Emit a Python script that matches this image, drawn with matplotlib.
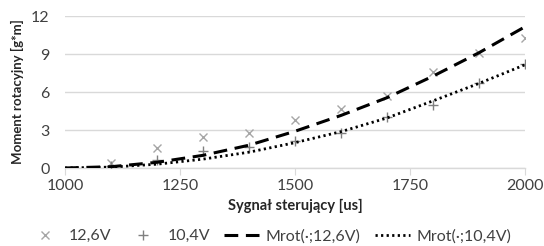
import matplotlib
matplotlib.use("Agg")
import matplotlib.pyplot as plt

plt.rcParams['font.family'] = ['Lato', 'DejaVu Sans']

# measured points
x_pts = [1100, 1200, 1300, 1400, 1500, 1600, 1700, 1800, 1900, 2000]
m_126 = [0.42, 1.6, 2.45, 2.8, 3.8, 4.63, 5.65, 7.6, 9.1, 10.3]
m_104 = [0.15, 0.63, 1.34, 1.68, 2.1, 2.8, 4.0, 5.0, 6.75, 8.2]

# model curves
x_fit = [1000, 1100, 1200, 1300, 1400, 1500, 1600, 1700, 1800, 1900, 2000]
fit_126 = [0.0, 0.1, 0.45, 1.0, 1.8, 2.9, 4.15, 5.55, 7.25, 9.1, 11.15]
fit_104 = [0.0, 0.07, 0.3, 0.7, 1.25, 2.0, 2.87, 3.95, 5.3, 6.68, 8.15]

x_ticks = [1000, 1250, 1500, 1750, 2000]
y_ticks = [0, 3, 6, 9, 12]

fig = plt.figure(figsize=(5.44, 2.46), dpi=100)
ax = fig.add_axes([65/544, 1-168/246, 460/544, 152/246])

tick_col = '#404040'
ax.plot(x_pts, m_126, linestyle='none', marker='x', color='#a6a6a6', markersize=6, mew=1.0, label='12,6V', zorder=3)
ax.plot(x_pts, m_104, linestyle='none', marker='+', color='#808080', markersize=7, mew=1.0, label='10,4V', zorder=3)
ax.plot(x_fit, fit_126, color='black', linewidth=2.2, dashes=(4.5, 2.5), label='Mrot(·;12,6V)', zorder=4)
ax.plot(x_fit, fit_104, color='black', linewidth=2.0, dashes=(0.8, 1.2), label='Mrot(·;10,4V)', zorder=4)

ax.set_xlim(1000, 2000)
ax.set_ylim(0, 12)
ax.set_xticks(x_ticks)
ax.set_yticks(y_ticks)
ax.yaxis.grid(True, color='#d9d9d9', linewidth=1)
ax.set_axisbelow(True)
for s in ['top', 'right', 'left']:
    ax.spines[s].set_visible(False)
ax.spines['bottom'].set_color('#d9d9d9')
ax.spines['bottom'].set_linewidth(1)
ax.tick_params(axis='y', length=0, pad=11, labelsize=11.5, labelcolor=tick_col)
ax.tick_params(axis='x', length=5, color='#d9d9d9', pad=3, labelsize=11.5, labelcolor=tick_col)

ax.set_xlabel('Sygnał sterujący [us]', fontsize=10.5, fontweight='bold', color='#262626', labelpad=4)
ax.set_ylabel('Moment rotacyjny [g*m]', fontsize=9.5, fontweight='bold', color='#262626', labelpad=5)

handles, labels = ax.get_legend_handles_labels()
fig.legend(handles, labels, loc='center', bbox_to_anchor=(0.495, 0.04), ncol=4, frameon=False,
           fontsize=11.5, handlelength=2.2, columnspacing=0.9, handletextpad=0.4, labelcolor=tick_col)

fig.savefig('out.png', dpi=100)
